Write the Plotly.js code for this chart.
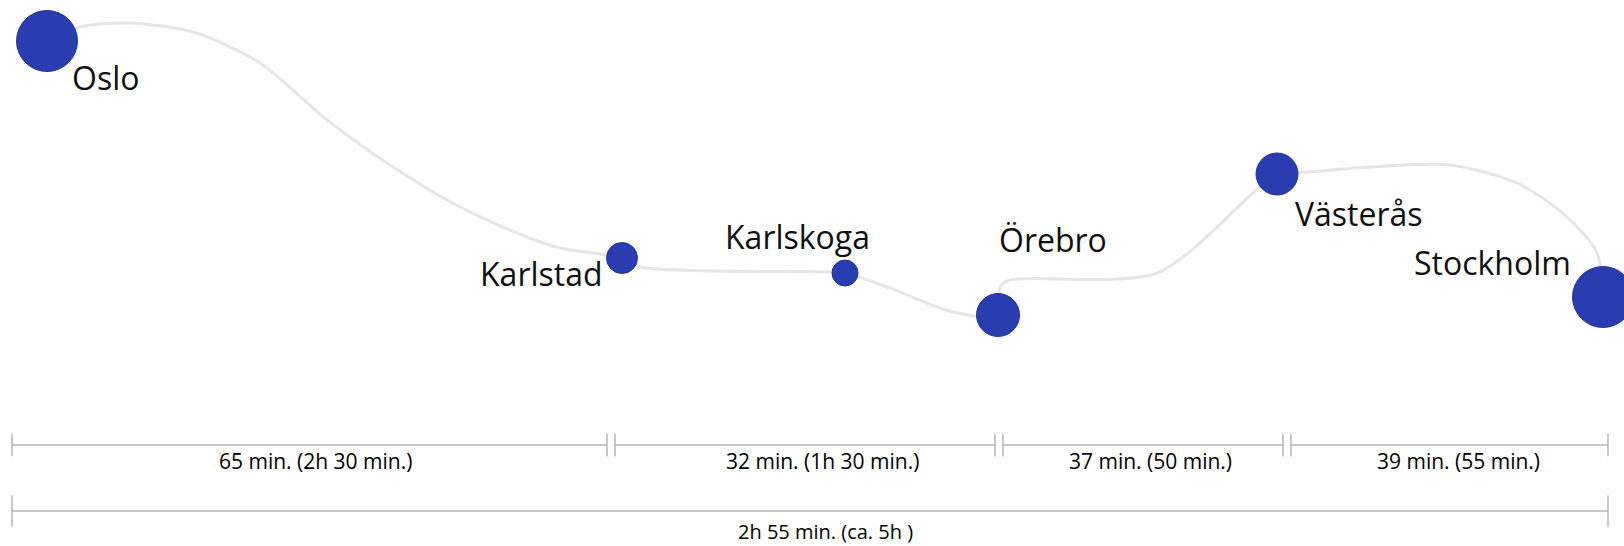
<!DOCTYPE html>
<html>
<head>
<meta charset="utf-8">
<script src="https://cdn.plot.ly/plotly-3.0.1.min.js"></script>
<style>html,body{margin:0;padding:0;background:#fff;}#chart{width:1624px;height:546px;}</style>
</head>
<body>
<div id="chart"></div>
<script>
// ---- data ----
const cities = ["Oslo", "Karlstad", "Karlskoga", "Örebro", "Västerås", "Stockholm"];
const cityX = [47, 622, 845, 998, 1277, 1603];
const cityY = [41, 258, 273, 315, 174, 297];
const citySize = [61, 31, 26, 43, 42, 61];

const routeX = [47, 80, 127, 193, 260, 327, 393, 460, 527, 560, 622, 640, 830, 845, 890, 953, 998, 1000, 1010, 1157, 1253, 1277, 1308, 1370, 1450, 1517, 1567, 1597, 1603];
const routeY = [41, 27, 23, 32, 63, 120, 167, 207, 237, 248, 258, 267, 272, 273, 288, 312, 315, 287, 280, 273, 193, 174, 172, 167, 165, 183, 217, 253, 297];

const legStart = [12, 615, 1003, 1291];
const legEnd = [607, 995, 1283, 1608];
const legLabels = ["65 min. (2h 30 min.)", "32 min. (1h 30 min.)", "37 min. (50 min.)", "39 min. (55 min.)"];
const totalStart = 12, totalEnd = 1608;
const totalLabel = "2h 55 min. (ca. 5h )";

// ---- placement ----
const labelX = [105, 541, 797, 1053, 1359, 1492];
const labelY = [77, 273, 236, 239, 213, 262];
const legLabelX = [315, 822, 1150, 1458];
const rowY = 445, totalRowY = 511, legLabelY = 461, totalLabelY = 531;

const traces = [];
traces.push({
  x: routeX, y: routeY, mode: 'lines', type: 'scatter',
  line: {color: '#e6e6e6', width: 3, shape: 'spline', smoothing: 0.8},
  hoverinfo: 'skip'
});
traces.push({
  x: cityX, y: cityY, mode: 'markers', type: 'scatter', text: cities,
  marker: {size: citySize, color: '#2a3db0', opacity: 1, line: {color: '#24359a', width: 1}},
  hoverinfo: 'text'
});
const barColor = '#b5b5b5';
for (let i = 0; i < legStart.length; i++) {
  traces.push({
    x: [legStart[i], legEnd[i]], y: [rowY, rowY], mode: 'lines+markers', type: 'scatter',
    line: {color: barColor, width: 1.5},
    marker: {symbol: 'line-ns-open', size: 16, line: {color: '#a0a0a0', width: 1.5}},
    hoverinfo: 'skip'
  });
}
traces.push({
  x: [totalStart, totalEnd], y: [totalRowY, totalRowY], mode: 'lines+markers', type: 'scatter',
  line: {color: barColor, width: 1.5},
  marker: {symbol: 'line-ns-open', size: 22, line: {color: '#a0a0a0', width: 1.5}},
  hoverinfo: 'skip'
});

const annotations = [];
for (let i = 0; i < cities.length; i++) {
  annotations.push({x: labelX[i], y: labelY[i], xref: 'x', yref: 'y', text: cities[i], showarrow: false,
    xanchor: 'center', yanchor: 'middle', font: {family: 'Open Sans', size: 32, color: '#111111'}});
}
for (let i = 0; i < legLabels.length; i++) {
  annotations.push({x: legLabelX[i], y: legLabelY, xref: 'x', yref: 'y', text: legLabels[i], showarrow: false,
    xanchor: 'center', yanchor: 'middle', font: {family: 'Open Sans', size: 21, color: '#000000'}});
}
annotations.push({x: 825, y: totalLabelY, xref: 'x', yref: 'y', text: totalLabel, showarrow: false,
  xanchor: 'center', yanchor: 'middle', borderpad: 0, font: {family: 'Open Sans', size: 20, color: '#000000'}});

const layout = {
  width: 1624, height: 546,
  margin: {l: 0, r: 0, t: 0, b: 0},
  paper_bgcolor: '#ffffff', plot_bgcolor: '#ffffff',
  showlegend: false,
  xaxis: {range: [0, 1624], visible: false, fixedrange: true},
  yaxis: {range: [546, 0], visible: false, fixedrange: true},
  annotations: annotations
};
Plotly.newPlot('chart', traces, layout, {displayModeBar: false, staticPlot: true});
</script>
</body>
</html>
